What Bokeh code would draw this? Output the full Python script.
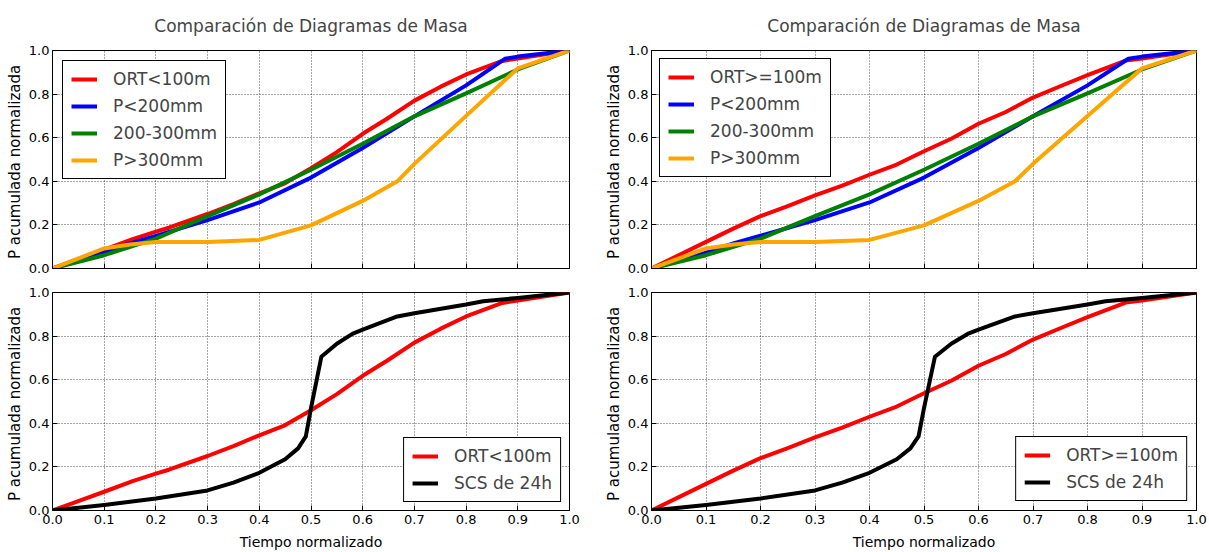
from bokeh.plotting import figure
from bokeh.models import Range1d, FixedTicker, Legend, LegendItem
from bokeh.layouts import row, column
from bokeh.embed import file_html
from bokeh.resources import INLINE

# ---------------- data ----------------
title_text = "Comparación de Diagramas de Masa"
ylabel_text = "P  acumulada normalizada"
xlabel_text = "Tiempo normalizado"

x_ticks = [0.0, 0.1, 0.2, 0.3, 0.4, 0.5, 0.6, 0.7, 0.8, 0.9, 1.0]
x_tick_labels = ["0.0", "0.1", "0.2", "0.3", "0.4", "0.5", "0.6", "0.7", "0.8", "0.9", "1.0"]
y_ticks = [0.0, 0.2, 0.4, 0.6, 0.8, 1.0]
y_tick_labels = ["0.0", "0.2", "0.4", "0.6", "0.8", "1.0"]

ort_lt_x = [0, 0.05, 0.1, 0.155, 0.2, 0.225, 0.3, 0.35, 0.4, 0.447, 0.5, 0.55, 0.6, 0.647, 0.7, 0.75, 0.8, 0.87, 0.9, 1.0]
ort_lt_y = [0, 0.043, 0.086, 0.135, 0.169, 0.187, 0.25, 0.295, 0.345, 0.388, 0.46, 0.534, 0.618, 0.687, 0.77, 0.833, 0.89, 0.952, 0.963, 1.0]

ort_ge_x = [0, 0.1, 0.15, 0.2, 0.25, 0.3, 0.35, 0.4, 0.45, 0.5, 0.55, 0.6, 0.65, 0.7, 0.75, 0.8, 0.87, 0.9, 1.0]
ort_ge_y = [0, 0.122, 0.183, 0.24, 0.286, 0.335, 0.38, 0.43, 0.477, 0.538, 0.595, 0.664, 0.718, 0.784, 0.836, 0.887, 0.954, 0.963, 1.0]

p200_x = [0, 0.1, 0.15, 0.2, 0.3, 0.4, 0.5, 0.6, 0.7, 0.8, 0.875, 0.9, 1.0]
p200_y = [0, 0.073, 0.115, 0.15, 0.222, 0.303, 0.417, 0.553, 0.698, 0.84, 0.962, 0.972, 1.0]

p200_300_x = [0, 0.1, 0.2, 0.3, 0.4, 0.5, 0.6, 0.7, 0.8, 0.9, 1.0]
p200_300_y = [0, 0.061, 0.137, 0.24, 0.34, 0.453, 0.572, 0.698, 0.803, 0.913, 1.0]

p300_x = [0, 0.1, 0.15, 0.2, 0.3, 0.4, 0.5, 0.6, 0.667, 0.7, 0.8, 0.9, 1.0]
p300_y = [0, 0.092, 0.11, 0.122, 0.122, 0.131, 0.198, 0.31, 0.40, 0.48, 0.70, 0.918, 1.0]

scs_x = [0, 0.1, 0.2, 0.3, 0.35, 0.4, 0.45, 0.475, 0.49, 0.5, 0.52, 0.55, 0.58, 0.6, 0.667, 0.7, 0.8, 0.833, 0.9, 1.0]
scs_y = [0, 0.025, 0.055, 0.092, 0.128, 0.173, 0.235, 0.285, 0.34, 0.47, 0.705, 0.765, 0.81, 0.83, 0.89, 0.905, 0.945, 0.96, 0.975, 1.0]

FONT = "DejaVu Sans"
C_RED, C_BLUE, C_GREEN, C_ORANGE, C_BLACK = "#ff0000", "#0000ff", "#008000", "#ffa500", "#000000"
LINE_W = 4
FRAME_H = 218


def make_fig(width, height, bl, br, bt, bb, title=None, xlabels=True):
    p = figure(width=width, height=height, output_backend="svg", toolbar_location=None,
               x_range=Range1d(0, 1), y_range=Range1d(0, 1),
               min_border_left=bl, min_border_right=br, min_border_top=bt, min_border_bottom=bb,
               background_fill_color="white", border_fill_color="white")
    if title:
        p.title.text = title
        p.title.text_font = FONT
        p.title.text_font_size = "17px"
        p.title.text_font_style = "normal"
        p.title.align = "center"
        p.title.vertical_align = "top"
        p.title.standoff = 26
    p.outline_line_color = "black"
    p.outline_line_width = 1
    for ax in (p.xaxis[0], p.yaxis[0]):
        ax.major_tick_in = 5
        ax.major_tick_out = 0
        ax.minor_tick_line_color = None
        ax.axis_line_color = "black"
        ax.major_label_text_font = FONT
        ax.major_label_text_font_size = "13px"
        ax.major_label_text_color = "black"
        ax.axis_label_text_font = FONT
        ax.axis_label_text_font_style = "normal"
        ax.axis_label_text_color = "black"
    p.xaxis.axis_label_text_font_size = "14px"
    p.yaxis.axis_label_text_font_size = "15px"
    p.xaxis.ticker = FixedTicker(ticks=x_ticks)
    p.yaxis.ticker = FixedTicker(ticks=y_ticks)
    p.yaxis.major_label_overrides = {t: l for t, l in zip(y_ticks, y_tick_labels)}
    p.yaxis.major_label_standoff = 3
    p.yaxis.axis_label = ylabel_text
    p.yaxis.axis_label_standoff = 2
    if xlabels:
        p.xaxis.major_label_overrides = {t: l for t, l in zip(x_ticks, x_tick_labels)}
        p.xaxis.major_label_standoff = 4
        p.xaxis.axis_label = xlabel_text
        p.xaxis.axis_label_standoff = 7
    else:
        p.xaxis.major_label_text_color = None
        p.xaxis.major_label_standoff = 0
    for g in (p.xgrid[0], p.ygrid[0]):
        g.grid_line_color = "black"
        g.grid_line_alpha = 0.7
        g.grid_line_dash = "1 2"
        g.grid_line_width = 1
    p.xgrid.ticker = FixedTicker(ticks=x_ticks)
    p.ygrid.ticker = FixedTicker(ticks=y_ticks)
    return p


def add_legend(p, items, location, margin):
    lg = Legend(items=items, location=location, margin=margin, padding=8, spacing=7,
                label_text_font=FONT, label_text_font_size="17px", label_height=20,
                glyph_height=20, glyph_width=26, label_standoff=16,
                border_line_color="black", border_line_width=1, border_line_alpha=1,
                background_fill_alpha=1)
    p.add_layout(lg, "center")


def top_panel(width, bl, br, red_x, red_y, red_label, lmargin):
    p = make_fig(width, 50 + FRAME_H + 15, bl, br, 50, 15, title=title_text, xlabels=False)
    r1 = p.line(red_x, red_y, line_color=C_RED, line_width=LINE_W, line_join="round")
    r2 = p.line(p200_x, p200_y, line_color=C_BLUE, line_width=LINE_W, line_join="round")
    r3 = p.line(p200_300_x, p200_300_y, line_color=C_GREEN, line_width=LINE_W, line_join="round")
    r4 = p.line(p300_x, p300_y, line_color=C_ORANGE, line_width=LINE_W, line_join="round")
    add_legend(p, [LegendItem(label=red_label, renderers=[r1]),
                   LegendItem(label="P<200mm", renderers=[r2]),
                   LegendItem(label="200-300mm", renderers=[r3]),
                   LegendItem(label="P>300mm", renderers=[r4])], "top_left", lmargin)
    return p


def bottom_panel(width, bl, br, red_x, red_y, red_label, lmargin):
    p = make_fig(width, 9 + FRAME_H + 42, bl, br, 9, 42, xlabels=True)
    r1 = p.line(red_x, red_y, line_color=C_RED, line_width=LINE_W, line_join="round")
    r2 = p.line(scs_x, scs_y, line_color=C_BLACK, line_width=LINE_W, line_join="round")
    add_legend(p, [LegendItem(label=red_label, renderers=[r1]),
                   LegendItem(label="SCS de 24h", renderers=[r2])], "bottom_right", lmargin)
    return p


LW, RW = 581, 628
p1 = top_panel(LW, 52, 12, ort_lt_x, ort_lt_y, "ORT<100m", 10)
p3 = bottom_panel(LW, 52, 12, ort_lt_x, ort_lt_y, "ORT<100m", 8)
p2 = top_panel(RW, 70, 13, ort_ge_x, ort_ge_y, "ORT>=100m", 8)
p4 = bottom_panel(RW, 70, 13, ort_ge_x, ort_ge_y, "ORT>=100m", 9)

layout = row(column(p1, p3, spacing=0), column(p2, p4, spacing=0), spacing=0)

with open("out.html", "w") as f:
    f.write(file_html(layout, INLINE))
